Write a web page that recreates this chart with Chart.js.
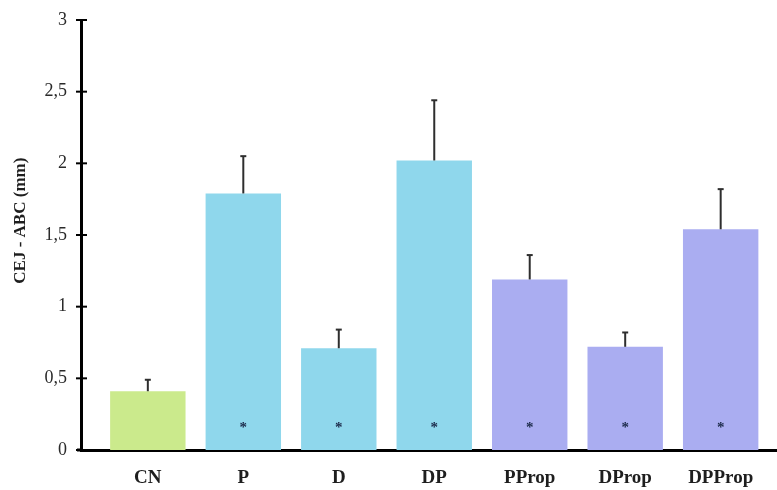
<!DOCTYPE html>
<html>
<head>
<meta charset="utf-8">
<script src="https://cdn.jsdelivr.net/npm/chart.js@4.4.1/dist/chart.umd.min.js"></script>
<style>
  html, body { margin: 0; padding: 0; background: #fff; }
  #wrap { width: 777px; height: 490px; position: relative; }
</style>
</head>
<body>
<div id="wrap"><canvas id="c" width="777" height="490"></canvas></div>
<script>
const categories = ['CN', 'P', 'D', 'DP', 'PProp', 'DProp', 'DPProp'];
const means = [0.41, 1.79, 0.71, 2.02, 1.19, 0.72, 1.54];
const errors = [0.08, 0.26, 0.13, 0.42, 0.17, 0.10, 0.28];
const significance = ['', '*', '*', '*', '*', '*', '*'];
const groupColors = ['#cbea8c', '#8fd7ec', '#8fd7ec', '#8fd7ec', '#aaadf1', '#aaadf1', '#aaadf1'];
const yTickValues = [0, 0.5, 1, 1.5, 2, 2.5, 3];
const yTitle = 'CEJ - ABC (mm)';

const serif = '"Liberation Serif", "DejaVu Serif", serif';

const overlay = {
  id: 'overlay',
  afterDatasetsDraw(chart) {
    const ctx = chart.ctx;
    const xs = chart.scales.x, ys = chart.scales.y;
    ctx.save();
    // error bars (upper only)
    ctx.strokeStyle = '#2e2e2e';
    ctx.lineWidth = 2;
    means.forEach((m, i) => {
      const x = xs.getPixelForValue(i);
      const y0 = ys.getPixelForValue(m);
      const y1 = ys.getPixelForValue(m + errors[i]);
      ctx.beginPath();
      ctx.moveTo(x, y0);
      ctx.lineTo(x, y1);
      ctx.stroke();
      ctx.beginPath();
      ctx.moveTo(x - 3, y1);
      ctx.lineTo(x + 3, y1);
      ctx.stroke();
    });
    // significance marks
    ctx.fillStyle = '#1c2a4a';
    ctx.font = 'bold 15px ' + serif;
    ctx.textAlign = 'center';
    ctx.textBaseline = 'middle';
    significance.forEach((s, i) => {
      if (!s) return;
      ctx.fillText(s, xs.getPixelForValue(i), ys.getPixelForValue(0.15));
    });
    ctx.restore();
  },
  afterDraw(chart) {
    const ctx = chart.ctx;
    const ys = chart.scales.y;
    const area = chart.chartArea;
    const left = area.left;
    ctx.save();
    ctx.strokeStyle = '#000';
    ctx.lineWidth = 2;
    yTickValues.forEach(v => {
      const y = ys.getPixelForValue(v);
      ctx.beginPath();
      ctx.moveTo(left - 5, y);
      ctx.lineTo(left + 6, y);
      ctx.stroke();
    });
    // extend x axis slightly left of the y axis
    ctx.lineWidth = 3;
    const yb = ys.getPixelForValue(0);
    ctx.beginPath();
    ctx.moveTo(left - 4, yb);
    ctx.lineTo(left, yb);
    ctx.stroke();
    // y-axis title
    ctx.translate(21, ys.getPixelForValue(1.6));
    ctx.rotate(-Math.PI / 2);
    ctx.fillStyle = '#1e1e1e';
    ctx.font = 'bold 17px ' + serif;
    ctx.textAlign = 'center';
    ctx.textBaseline = 'middle';
    ctx.fillText(yTitle, 0, 0);
    ctx.restore();
  }
};

new Chart(document.getElementById('c'), {
  type: 'bar',
  data: {
    datasets: [{
      data: means.map((v, i) => ({ x: i, y: v })),
      backgroundColor: groupColors,
      borderWidth: 0,
      barPercentage: 0.79,
      categoryPercentage: 1.0
    }]
  },
  options: {
    responsive: false,
    animation: false,
    devicePixelRatio: 1,
    layout: { padding: { top: 20, right: 0, left: 0, bottom: 0 } },
    plugins: { legend: { display: false }, tooltip: { enabled: false } },
    scales: {
      x: {
        type: 'linear',
        offset: false,
        min: -0.70,
        max: 6.59,
        afterFit(scale) { scale.height = 40; scale.paddingLeft = 0; scale.paddingRight = 0; },
        afterBuildTicks(scale) {
          scale.ticks = categories.map((c, i) => ({ value: i }));
        },
        grid: { display: false, drawTicks: false },
        border: { display: true, color: '#000', width: 3 },
        ticks: {
          padding: 17,
          color: '#1e1e1e',
          font: { family: serif, size: 19, weight: 'bold' },
          maxRotation: 0,
          autoSkip: false,
          callback: (v) => categories[v] ?? ''
        }
      },
      y: {
        min: 0,
        max: 3,
        afterFit(scale) { scale.width = 81; scale.paddingTop = 0; scale.paddingBottom = 0; },
        grid: { display: false, drawTicks: false },
        border: { display: true, color: '#000', width: 3 },
        ticks: {
          stepSize: 0.5,
          padding: 14,
          color: '#2a2a2a',
          font: { family: serif, size: 18 },
          callback: (v) => String(v).replace('.', ',')
        },
        title: { display: false }
      }
    }
  },
  plugins: [overlay]
});
</script>
</body>
</html>
